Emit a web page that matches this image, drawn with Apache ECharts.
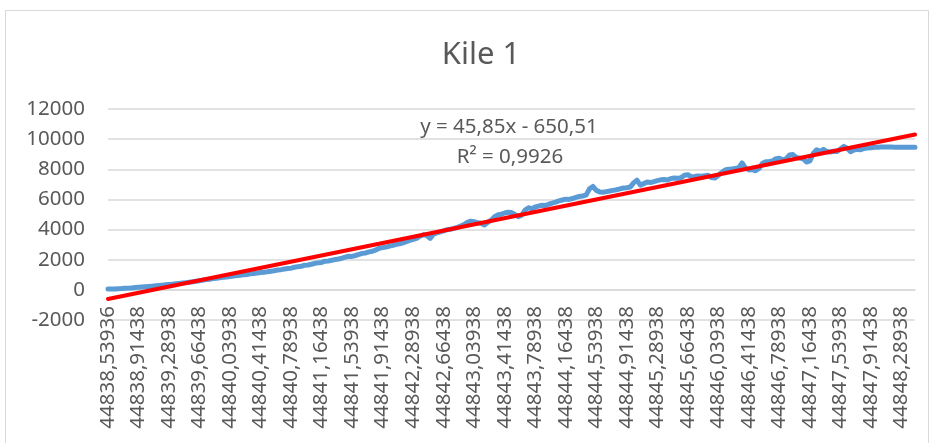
<!DOCTYPE html>
<html>
<head>
<meta charset="utf-8">
<script src="https://cdn.jsdelivr.net/npm/echarts@6/dist/echarts.min.js"></script>
<style>
  html, body { margin: 0; padding: 0; background: #fff; }
  #main { width: 934px; height: 443px; }
</style>
</head>
<body>
<div id="main"></div>
<script>
// labels shown under the axis (every 9th point)
var tickLabels = [
  '44838,53936', '44838,91438', '44839,28938', '44839,66438', '44840,03938',
  '44840,41438', '44840,78938', '44841,16438', '44841,53938', '44841,91438',
  '44842,28938', '44842,66438', '44843,03938', '44843,41438', '44843,78938',
  '44844,16438', '44844,53938', '44844,91438', '44845,28938', '44845,66438',
  '44846,03938', '44846,41438', '44846,78938', '44847,16438', '44847,53938',
  '44847,91438', '44848,28938'
];

// Kile 1 readings
var kile1 = [
  50, 55, 65, 75, 85, 100, 115, 130, 150, 170,
  190, 205, 225, 245, 270, 290, 310, 335, 355, 380,
  400, 425, 450, 480, 510, 540, 575, 610, 645, 680,
  710, 745, 770, 800, 835, 860, 890, 915, 945, 975,
  1000, 1020, 1060, 1080, 1110, 1150, 1170, 1200, 1240, 1270,
  1320, 1340, 1380, 1420, 1440, 1500, 1540, 1560, 1640, 1650,
  1700, 1760, 1790, 1820, 1900, 1920, 1960, 2010, 2050, 2100,
  2170, 2230, 2220, 2280, 2350, 2420, 2450, 2520, 2560, 2650,
  2760, 2800, 2840, 2900, 2950, 3020, 3060, 3120, 3200, 3280,
  3350, 3420, 3560, 3660, 3600, 3420, 3700, 3780, 3850, 3920,
  3990, 4020, 4080, 4150, 4230, 4330, 4480, 4560, 4520, 4450,
  4420, 4300, 4480, 4620, 4850, 4980, 5020, 5100, 5150, 5130,
  5000, 4850, 4950, 5300, 5450, 5380, 5500, 5560, 5620, 5600,
  5680, 5750, 5820, 5900, 5960, 6020, 6000, 6060, 6130, 6200,
  6220, 6300, 6700, 6860, 6600, 6500, 6480, 6520, 6560, 6600,
  6640, 6700, 6760, 6780, 6820, 7100, 7280, 6950, 7050, 7150,
  7120, 7180, 7250, 7300, 7320, 7290, 7380, 7420, 7400, 7450,
  7600, 7640, 7500, 7520, 7560, 7540, 7580, 7600, 7450, 7420,
  7600, 7800, 7950, 8000, 8020, 8060, 8100, 8420, 8080, 7960,
  7980, 7900, 8050, 8400, 8500, 8520, 8560, 8700, 8740, 8620,
  8700, 8950, 8980, 8780, 8740, 8700, 8480, 8560, 9050, 9300,
  9200, 9320, 9180, 9150, 9200, 9180, 9350, 9520, 9400, 9170,
  9280, 9320, 9300, 9380, 9420, 9430, 9460, 9470, 9480, 9480,
  9480, 9480, 9470, 9470, 9470, 9460, 9460, 9460, 9460
];

// linear trendline shown on the chart
var trendSlope = 45.85;
var trendIntercept = -650.51;
var trendText = ['y = 45,85x - 650,51', 'R\u00B2 = 0,9926'];

var yTicks = { min: -2000, max: 12000, step: 2000 };

var categories = kile1.map(function (v, i) { return i + 1; });
var n = kile1.length;
var trendData = [
  [0, trendSlope * 1 + trendIntercept],
  [n - 1, trendSlope * n + trendIntercept]
];

var textColor = '#595959';
var fontFam = '"Noto Sans", "Open Sans", sans-serif';

var myChart = echarts.init(document.getElementById('main'));
myChart.setOption({
  animation: false,
  backgroundColor: '#fff',
  title: {
    text: 'Kile 1',
    left: 476,
    top: 35,
    textAlign: 'center',
    textStyle: { fontFamily: fontFam, fontSize: 31, fontWeight: 'normal', color: textColor }
  },
  grid: { left: 108, right: 19, top: 109, bottom: 123, containLabel: false, outerBoundsMode: 'none' },
  xAxis: {
    type: 'category',
    data: categories,
    boundaryGap: false,
    // axis sits on the 0 line (one grid step above the bottom)
    offset: -30,
    axisLine: { onZero: false, lineStyle: { color: '#d9d9d9', width: 1.5 } },
    axisTick: { show: false },
    axisLabel: {
      interval: 8,
      rotate: 90,
      margin: 16,
      color: textColor,
      fontFamily: fontFam,
      fontSize: 20.5,
      formatter: function (value, index) { return tickLabels[Math.round(index / 9)]; }
    },
    splitLine: { show: false }
  },
  yAxis: {
    type: 'value',
    min: yTicks.min,
    max: yTicks.max,
    interval: yTicks.step,
    axisLine: { show: false },
    axisTick: { show: false },
    axisLabel: {
      color: textColor, fontFamily: fontFam, fontSize: 20.5, margin: 23,
      formatter: function (v) { return String(v); }
    },
    splitLine: { lineStyle: { color: '#d9d9d9', width: 1.5 } }
  },
  series: [
    {
      name: 'Kile 1',
      type: 'line',
      data: kile1,
      symbol: 'none',
      lineStyle: { color: '#5b9bd5', width: 5, cap: 'round', join: 'round' }
    },
    {
      name: 'Trend',
      type: 'line',
      data: trendData,
      symbol: 'none',
      lineStyle: { color: '#ff0000', width: 4, cap: 'round' }
    }
  ],
  graphic: [
    {
      type: 'rect',
      shape: { x: 5.5, y: 10.5, width: 923, height: 440 },
      style: { fill: 'none', stroke: '#d9d9d9', lineWidth: 1 },
      silent: true
    },
    {
      type: 'text',
      x: 509, y: 127,
      style: { text: trendText[0], fill: textColor, font: '20.5px ' + fontFam, textAlign: 'center', textVerticalAlign: 'middle' }
    },
    {
      type: 'text',
      x: 510, y: 157,
      style: { text: trendText[1], fill: textColor, font: '20.5px ' + fontFam, textAlign: 'center', textVerticalAlign: 'middle' }
    }
  ]
});
</script>
</body>
</html>
